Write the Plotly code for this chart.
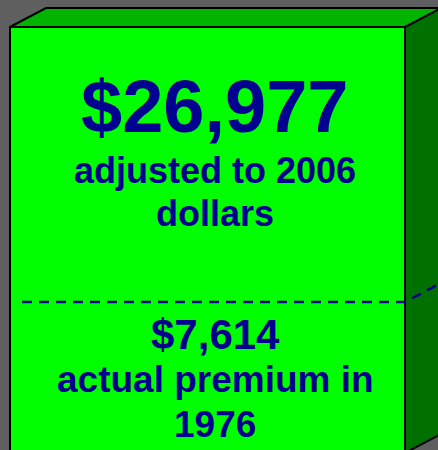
import plotly.graph_objects as go

# ---- data ----
categories = ["Premium"]
adjusted_value = [26977]          # adjusted to 2006 dollars
actual_value = [7614]             # actual premium in 1976
adjusted_labels = ["$26,977", "adjusted to 2006", "dollars"]
actual_labels = ["$7,614", "actual premium in", "1976"]

# ---- geometry / style ----
W, H = 438, 450
FRONT_LEFT, FRONT_RIGHT = 10, 405
TOP_PX, LINE_PX = 27, 302
DEPTH_X, DEPTH_Y = 36, 19
BG = "#5f5f5f"
FRONT = "#00ff00"
TOPC = "#00b400"
SIDE = "#007000"
TXT = "#000090"
FONT = "Liberation Sans"

top_v = adjusted_value[0]
line_v = actual_value[0]
vpp = (top_v - line_v) / (LINE_PX - TOP_PX)
ymax = top_v + TOP_PX * vpp
ymin = ymax - H * vpp
upp = 1.0 / (FRONT_RIGHT - FRONT_LEFT)
xmin = -0.5 - FRONT_LEFT * upp
xmax = xmin + W * upp
base = ymin - 3 * vpp
dxv = DEPTH_X * upp
dyv = DEPTH_Y * vpp
x0, x1 = -0.5, 0.5

fig = go.Figure()

fig.add_trace(go.Bar(
    x=[0], y=[top_v - base], base=[base], width=[1],
    marker=dict(color=FRONT, line=dict(color="black", width=2)),
    hoverinfo="skip", showlegend=False,
))

# dashed level line for the actual premium
fig.add_trace(go.Scatter(
    x=[x0 + 12 * upp, x1, x1 + dxv],
    y=[line_v, line_v, line_v + dyv],
    mode="lines",
    line=dict(color=TXT, width=2.5, dash="10px,7px"),
    hoverinfo="skip", showlegend=False,
))

def path(pts):
    return "M " + " L ".join(f"{a},{b}" for a, b in pts) + " Z"

shapes = [
    dict(type="path", xref="x", yref="y", layer="above",
         path=path([(x0, top_v), (x0 + dxv, top_v + dyv), (x1 + dxv, top_v + dyv), (x1, top_v)]),
         fillcolor=TOPC, line=dict(color="black", width=2)),
    dict(type="path", xref="x", yref="y", layer="below",
         path=path([(x1, top_v), (x1 + dxv, top_v + dyv), (x1 + dxv, base + dyv), (x1, base)]),
         fillcolor=SIDE, line=dict(color="black", width=2)),
]

def ann(text, ypx, size):
    return dict(text=text, xref="paper", yref="paper", x=215 / W, y=1 - ypx / H,
                xanchor="center", yanchor="middle", showarrow=False,
                font=dict(family=FONT, size=size, color=TXT, weight="bold"))

K = 0.40
annotations = [
    ann(adjusted_labels[0], 136 - K * 74, 74),
    ann(adjusted_labels[1], 185 - K * 36, 36),
    ann(adjusted_labels[2], 228 - K * 36, 36),
    ann(actual_labels[0], 351 - K * 42, 42),
    ann(actual_labels[1], 394 - K * 37, 37),
    ann(actual_labels[2], 439 - K * 37, 37),
]

fig.update_layout(
    width=W, height=H,
    margin=dict(l=0, r=0, t=0, b=0),
    paper_bgcolor=BG, plot_bgcolor=BG,
    xaxis=dict(range=[xmin, xmax], visible=False, fixedrange=True),
    yaxis=dict(range=[ymin, ymax], visible=False, fixedrange=True),
    shapes=shapes, annotations=annotations,
    showlegend=False, bargap=0,
)

fig.write_html("out.html", config={"displayModeBar": False},
               post_script="document.body.style.margin='0px';document.body.style.overflow='hidden';")
